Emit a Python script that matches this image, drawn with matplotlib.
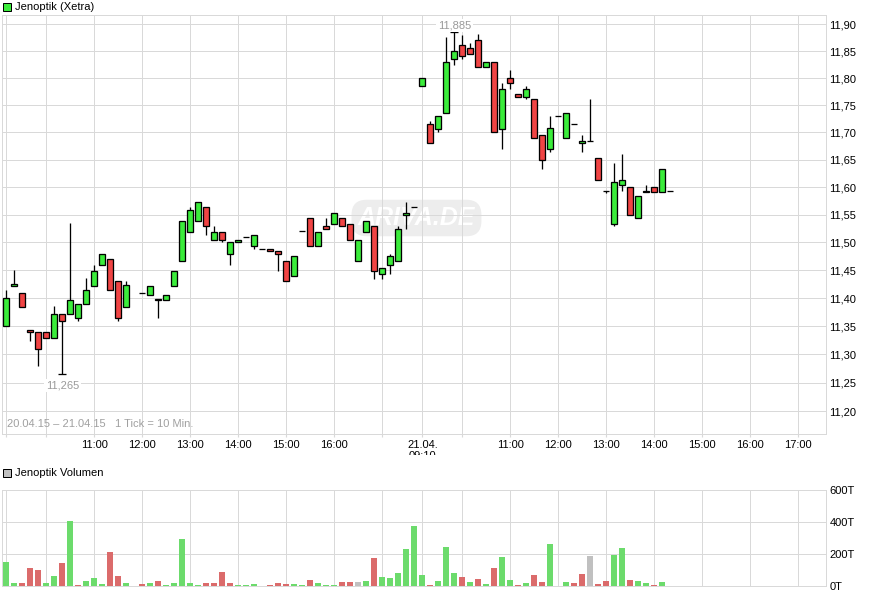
import matplotlib
matplotlib.use('Agg')
import matplotlib.pyplot as plt
from matplotlib.patches import Rectangle
from matplotlib.ticker import FixedLocator, NullLocator, FuncFormatter

plt.rcParams['font.family'] = ['Liberation Sans', 'DejaVu Sans']

price_title = 'Jenoptik (Xetra)'
volume_title = 'Jenoptik Volumen'
range_note = '20.04.15 \u2013 21.04.15   1 Tick = 10 Min.'
watermark = 'ARIVA.DE'

# 10-minute bars: index 0 = 20.04. 09:10, index 52 = 21.04. 09:10 (None = no trade)
opens = [11.35, 11.421, 11.41, 11.344, 11.34, 11.34, 11.33, 11.371, 11.371, 11.365,
         11.39, 11.421, 11.46, 11.47, 11.43, 11.385, None, 11.41, 11.405, 11.396,
         11.396, 11.421, 11.466, 11.519, 11.539, 11.564, 11.505, 11.519, 11.48, 11.50,
         11.51, 11.494, 11.489, 11.489, 11.485, 11.466, 11.44, 11.52, 11.545, 11.494,
         11.53, 11.534, 11.545, 11.534, 11.466, 11.519, 11.53, 11.444, 11.46, 11.466,
         11.55, 11.564, 11.786, 11.715, 11.706, 11.735, 11.835, 11.861, 11.856, 11.87,
         11.82, 11.83, 11.706, 11.80, 11.77, 11.765, 11.761, 11.695, 11.67, 11.73,
         11.69, 11.715, 11.68, 11.685, 11.654, 11.594, 11.534, 11.605, 11.60, 11.545,
         11.591, 11.60, 11.591, 11.594]
highs = [11.415, 11.45, 11.41, 11.344, 11.34, 11.34, 11.386, 11.371, 11.535, 11.39,
         11.436, 11.46, 11.48, 11.47, 11.43, 11.43, None, 11.41, 11.421, 11.399,
         11.405, 11.449, 11.539, 11.565, 11.573, 11.564, 11.53, 11.519, 11.50, 11.505,
         11.51, 11.514, 11.489, 11.489, 11.485, 11.466, 11.475, 11.52, 11.545, 11.519,
         11.545, 11.554, 11.545, 11.534, 11.505, 11.539, 11.53, 11.454, 11.48, 11.53,
         11.573, 11.564, 11.80, 11.721, 11.73, 11.877, 11.885, 11.88, 11.866, 11.882,
         11.83, 11.83, 11.791, 11.815, 11.77, 11.786, 11.761, 11.695, 11.73, 11.73,
         11.735, 11.715, 11.695, 11.761, 11.654, 11.594, 11.645, 11.66, 11.60, 11.585,
         11.605, 11.60, 11.634, 11.594]
lows = [11.35, 11.421, 11.385, 11.324, 11.28, 11.33, 11.33, 11.265, 11.371, 11.36,
        11.39, 11.421, 11.46, 11.415, 11.36, 11.385, None, 11.41, 11.405, 11.365,
        11.396, 11.421, 11.466, 11.519, 11.539, 11.513, 11.505, 11.50, 11.46, 11.50,
        11.51, 11.489, 11.489, 11.485, 11.449, 11.43, 11.44, 11.52, 11.494, 11.494,
        11.525, 11.534, 11.53, 11.505, 11.466, 11.519, 11.435, 11.435, 11.444, 11.466,
        11.525, 11.564, 11.786, 11.68, 11.70, 11.735, 11.825, 11.835, 11.845, 11.82,
        11.82, 11.70, 11.67, 11.78, 11.765, 11.761, 11.69, 11.634, 11.664, 11.73,
        11.69, 11.715, 11.664, 11.685, 11.614, 11.59, 11.53, 11.593, 11.55, 11.545,
        11.591, 11.591, 11.591, 11.594]
closes = [11.40, 11.425, 11.385, 11.34, 11.31, 11.33, 11.371, 11.36, 11.396, 11.39,
          11.415, 11.449, 11.48, 11.415, 11.365, 11.424, None, 11.41, 11.421, 11.399,
          11.405, 11.449, 11.539, 11.559, 11.573, 11.53, 11.519, 11.505, 11.50, 11.505,
          11.51, 11.514, 11.489, 11.485, 11.48, 11.43, 11.475, 11.52, 11.494, 11.519,
          11.525, 11.554, 11.53, 11.505, 11.505, 11.539, 11.449, 11.454, 11.475, 11.525,
          11.554, 11.564, 11.80, 11.68, 11.73, 11.83, 11.85, 11.841, 11.845, 11.82,
          11.83, 11.70, 11.78, 11.791, 11.765, 11.78, 11.69, 11.65, 11.709, 11.73,
          11.735, 11.715, 11.685, 11.685, 11.614, 11.594, 11.61, 11.614, 11.55, 11.585,
          11.594, 11.591, 11.634, 11.594]
volumes_t = [152, 19, 19, 113, 100, 19, 63, 144, 408, 6,
             31, 50, 13, 213, 63, 19, 0, 13, 19, 31,
             6, 19, 295, 19, 6, 19, 19, 88, 19, 6,
             6, 13, 1, 6, 19, 13, 13, 6, 38, 19,
             6, 6, 25, 25, 25, 31, 176, 56, 50, 82,
             232, 376, 69, 6, 31, 245, 82, 56, 25, 44,
             13, 113, 182, 38, 6, 19, 69, 25, 263, 1,
             25, 19, 75, 188, 13, 31, 194, 238, 38, 31,
             19, 6, 25, 0]

price_ticks = [11.20, 11.25, 11.30, 11.35, 11.40, 11.45, 11.50, 11.55,
               11.60, 11.65, 11.70, 11.75, 11.80, 11.85, 11.90]
volume_ticks = [0, 200, 400, 600]
# (day index, time, label)
x_ticks = [(0, '09:10', ''), (0, '10:00', ''), (0, '11:00', '11:00'), (0, '12:00', '12:00'),
           (0, '13:00', '13:00'), (0, '14:00', '14:00'), (0, '15:00', '15:00'),
           (0, '16:00', '16:00'), (0, '17:00', ''), (1, '09:10', '21.04.\n09:10'),
           (1, '10:00', ''), (1, '11:00', '11:00'), (1, '12:00', '12:00'), (1, '13:00', '13:00'),
           (1, '14:00', '14:00'), (1, '15:00', '15:00'), (1, '16:00', '16:00'), (1, '17:00', '17:00')]

BARS_PER_DAY = 52


def slot(day, t):
    h, m = map(int, t.split(':'))
    return day * BARS_PER_DAY + (h * 60 + m - 550) / 10.0


C_UP = '#3bec3b'
C_DN = '#f04444'
V_UP = '#6cdb6c'
V_DN = '#db6b6b'
V_EQ = '#c0c0c0'
GRID = '#d9d9d9'
LW1 = 0.72  # one pixel

W, H = 871, 597
fig = plt.figure(figsize=(W / 100, H / 100), dpi=100)


def rect(l, t, r, b):
    return [l / W, 1 - b / H, (r - l) / W, (b - t) / H]


ax = fig.add_axes(rect(2, 15, 826, 434))
axv = fig.add_axes(rect(2, 490.3, 826, 586))

tick_pos = [slot(d, t) for d, t, _ in x_ticks]
tick_lab = [lab for _, _, lab in x_ticks]

for a in (ax, axv):
    a.set_xlim(-0.54, 102.46)
    for s in a.spines.values():
        s.set_color(GRID)
        s.set_linewidth(LW1)
    a.xaxis.set_major_locator(FixedLocator(tick_pos))
    a.grid(True, color=GRID, linewidth=LW1, zorder=0)
    a.set_axisbelow(True)
    a.yaxis.tick_right()
    a.tick_params(axis='y', length=0, pad=2.5, labelsize=8, colors='black')

# ---- price panel ----
ax.set_yscale('log')
ax.set_ylim(11.160, 11.9174)
ax.yaxis.set_major_locator(FixedLocator(price_ticks))
ax.yaxis.set_minor_locator(NullLocator())
ax.yaxis.set_major_formatter(FuncFormatter(lambda v, _: f'{v:.2f}'.replace('.', ',')))
ax.set_xticklabels(tick_lab)
ax.tick_params(axis='x', length=2.5, pad=1.5, labelsize=8, color=GRID, labelcolor='black')

ax.text(0.503, 0.5155, watermark, transform=ax.transAxes, ha='center', va='center',
        fontsize=18, fontweight='bold', fontstyle='italic', color='white', zorder=0.5,
        bbox=dict(boxstyle='round,pad=0.25,rounding_size=0.6', facecolor='#ededed',
                  edgecolor='none'))

bw = 0.75
for i, (o, h, l, c) in enumerate(zip(opens, highs, lows, closes)):
    if o is None:
        continue
    ax.vlines(i, l, h, color='black', linewidth=LW1 * 1.3, zorder=2)
    col = C_UP if c > o else C_DN
    ax.add_patch(Rectangle((i - bw / 2, min(o, c)), bw, abs(c - o), facecolor=col,
                           edgecolor='black', linewidth=LW1 * 1.3, zorder=3))

valid = [i for i, v in enumerate(lows) if v is not None]
i_lo = min(valid, key=lambda i: lows[i])
i_hi = max(valid, key=lambda i: highs[i])
ax.hlines(lows[i_lo], i_lo - 0.5, i_lo + 0.5, color='black', linewidth=LW1 * 1.3, zorder=3)
ax.hlines(highs[i_hi], i_hi - 0.5, i_hi + 0.5, color='black', linewidth=LW1 * 1.3, zorder=3)
ax.annotate(f'{lows[i_lo]:.3f}'.replace('.', ','), (i_lo, lows[i_lo]), xytext=(0, -8),
            textcoords='offset points', ha='center', va='center', fontsize=8, color='#9a9a9a',
            bbox=dict(boxstyle='square,pad=0.15', facecolor='white', edgecolor='none'), zorder=4)
ax.annotate(f'{highs[i_hi]:.3f}'.replace('.', ','), (i_hi, highs[i_hi]), xytext=(0, 5),
            textcoords='offset points', ha='center', va='center', fontsize=8, color='#9a9a9a',
            bbox=dict(boxstyle='square,pad=0.15', facecolor='white', edgecolor='none'), zorder=4)

ax.text(5.3 / 824, 10 / 419, range_note, transform=ax.transAxes, ha='left', va='center',
        fontsize=8, color='#a0a0a0')

# ---- volume panel ----
axv.set_ylim(0, 600)
axv.yaxis.set_major_locator(FixedLocator(volume_ticks))
axv.yaxis.set_major_formatter(FuncFormatter(lambda v, _: f'{int(v)}T'))
axv.tick_params(axis='x', length=0, labelbottom=False)
prev = None
for i, (v, c) in enumerate(zip(volumes_t, closes)):
    if c is None:
        continue
    if prev is None or c > prev:
        col = V_UP
    elif c < prev:
        col = V_DN
    else:
        col = V_EQ
    prev = c
    if v > 0:
        axv.bar(i, v, width=0.75, color=col, zorder=2, linewidth=0)

# ---- legends ----
fig.add_artist(Rectangle((3 / W, 1 - 11 / H), 8 / W, 8 / H, transform=fig.transFigure,
                         facecolor=C_UP, edgecolor='black', linewidth=LW1))
fig.text(15 / W, 1 - 7 / H, price_title, ha='left', va='center', fontsize=8)
fig.add_artist(Rectangle((3 / W, 1 - 477 / H), 8 / W, 8 / H, transform=fig.transFigure,
                         facecolor=V_EQ, edgecolor='black', linewidth=LW1))
fig.text(15 / W, 1 - 473 / H, volume_title, ha='left', va='center', fontsize=8)

# the second line of the day label is cut off in the original
fig.add_artist(Rectangle((395 / W, 1 - 466 / H), 55 / W, 11.5 / H, transform=fig.transFigure,
                         facecolor='white', edgecolor='none', zorder=5))

fig.savefig('out.png', dpi=100)
